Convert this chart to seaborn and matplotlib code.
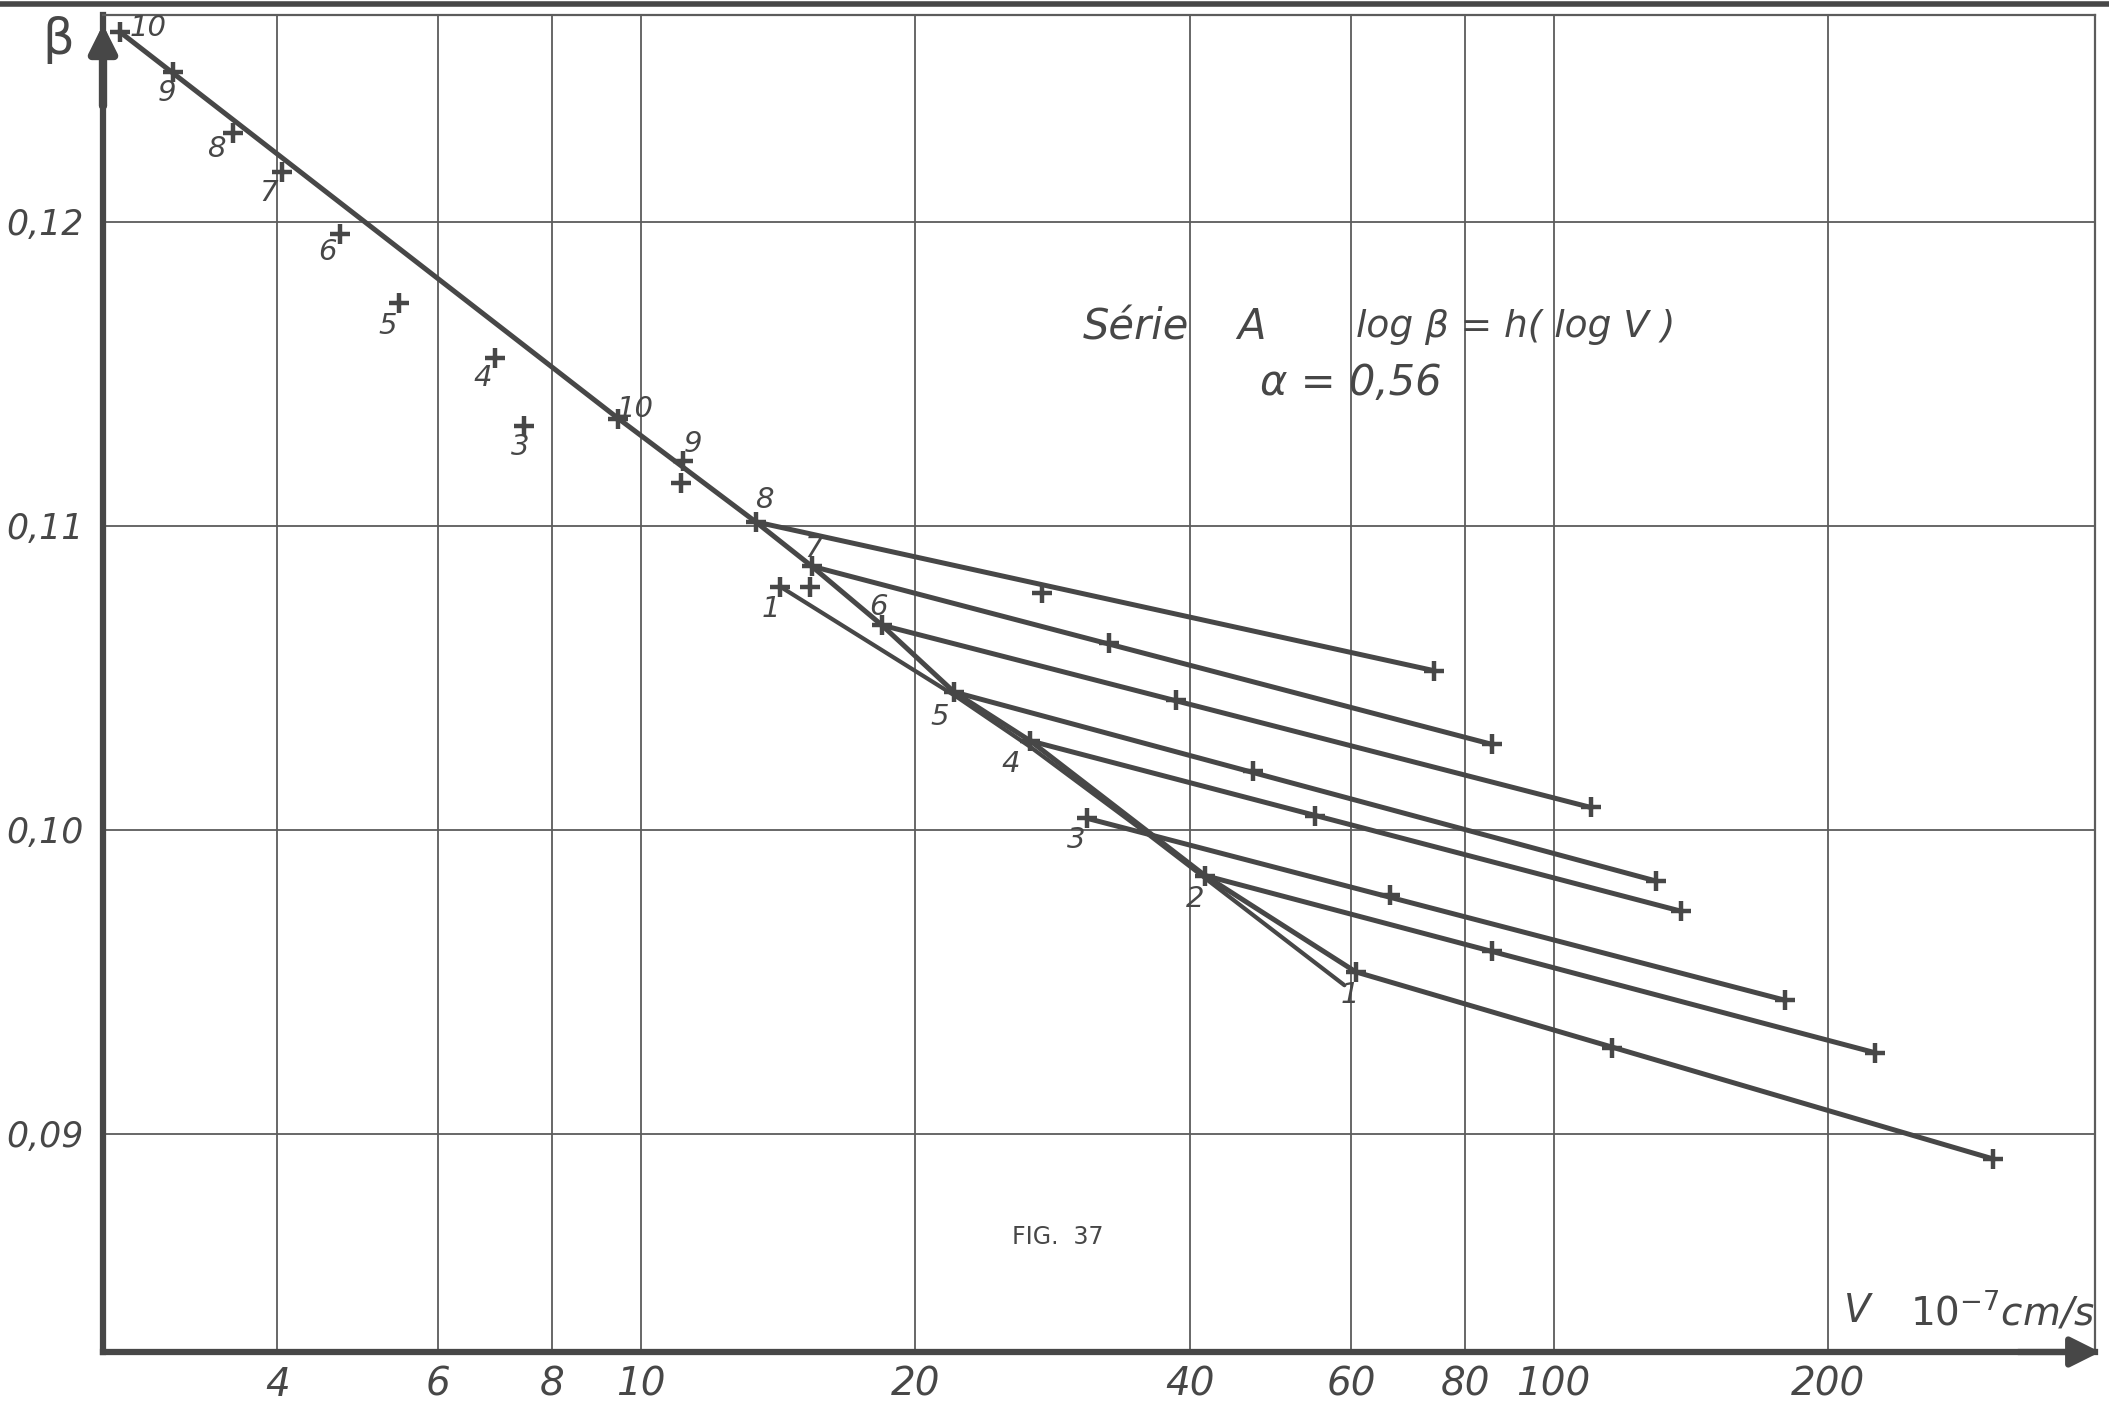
import numpy as np
import pandas as pd
import matplotlib
matplotlib.use("Agg")
import matplotlib.pyplot as plt
import seaborn as sns
from matplotlib.lines import Line2D
from matplotlib.ticker import NullLocator, FixedLocator

# ---------------- data ----------------
# first group of points (upper left, labels 10..3)
set1_V = [2.691, 3.078, 3.575, 4.053, 4.688, 5.442, 6.928, 7.455]
set1_beta = [0.12625, 0.12494, 0.12293, 0.12165, 0.11959, 0.11732, 0.11551, 0.11328]
set1_labels = ["10", "9", "8", "7", "6", "5", "4", "3"]

# second group (points on the envelope, labels 10..1)
main_V = [9.456, 11.14, 13.37, 15.40, 18.38, 22.05, 26.73, 30.87, 41.52, 60.72]
main_beta = [0.11353, 0.11213, 0.11013, 0.10867, 0.10673, 0.10453, 0.10292, 0.10037, 0.09849, 0.09532]
main_labels = ["10", "9", "8", "7", "6", "5", "4", "3", "2", "1"]

# envelope line vertices
env_V = [2.691, 9.456, 13.37, 15.40, 18.38, 22.05, 26.73, 41.52, 60.72]
env_beta = [0.12625, 0.11353, 0.11013, 0.10867, 0.10673, 0.10453, 0.10292, 0.09849, 0.09532]

# extra unlabeled crosses
extra_V = [11.07, 15.33]
extra_beta = [0.11141, 0.10797]

# separate line "1"
sep_V = [14.22, 22.20, 26.71, 35.84, 59.02]
sep_beta = [0.10800, 0.10437, 0.10273, 0.09988, 0.09488]

# fan lines: start at main point k, intermediate cross, end cross
fan_names = ["8", "7", "6", "5", "4", "3", "2", "1"]
fan_start_V = [13.37, 15.40, 18.38, 22.05, 26.73, 30.87, 41.52, 60.72]
fan_start_beta = [0.11013, 0.10867, 0.10673, 0.10453, 0.10292, 0.10037, 0.09849, 0.09532]
fan_mid_V = [27.51, 32.62, 38.59, 46.91, 54.86, 66.14, 85.73, 115.8]
fan_mid_beta = [0.10779, 0.10615, 0.10426, 0.10193, 0.10045, 0.09786, 0.09602, 0.09281]
fan_end_V = [74.03, 85.55, 109.9, 129.5, 137.8, 179.1, 224.9, 303.3]
fan_end_beta = [0.10523, 0.10281, 0.10073, 0.09831, 0.09732, 0.09439, 0.09266, 0.08916]

x_ticks = [4, 6, 8, 10, 20, 40, 60, 80, 100, 200]
x_ticklabels = ["4", "6", "8", "10", "20", "40", "60", "80", "100", "200"]
y_ticks = [0.09, 0.10, 0.11, 0.12]
y_ticklabels = ["0,09", "0,10", "0,11", "0,12"]

# label offsets (pixels) relative to each cross
set1_off = [(28, 4), (-6, -21), (-16, -16), (-14, -21), (-13, -18), (-12, -23), (-12, -20), (-4, -21)]
main_off = [(17, 10), (10, 17), (9, 22), (2, 17), (-3, 18), (-14, -25), (-20, -23), (-11, -22), (-10, -23), (-6, -23)]

# ---------------- style ----------------
sns.set_style("white")
plt.rcParams["font.family"] = ["DejaVu Sans"]
plt.rcParams["mathtext.default"] = "it"
INK = "#474747"
GRID = "#5c5c5c"

fig = plt.figure(figsize=(21.09, 14.14), dpi=100)
ax = fig.add_axes([0.04884, 0.04385, 0.94452, 0.94554])
ax.set_xscale("log")
ax.set_xlim(2.578, 391.8)
ax.set_ylim(0.08281, 0.12681)

# grid
ax.xaxis.set_major_locator(FixedLocator(x_ticks))
ax.xaxis.set_minor_locator(NullLocator())
ax.set_xticks(x_ticks)
ax.set_xticklabels(x_ticklabels)
ax.set_yticks(y_ticks)
ax.set_yticklabels(y_ticklabels)
ax.grid(True, color=GRID, lw=1.3)
ax.set_axisbelow(True)
ax.tick_params(axis="both", length=0, colors=INK)
ax.tick_params(axis="y", pad=14)
ax.tick_params(axis="x", pad=10)
for lab in ax.get_xticklabels():
    lab.set_fontstyle("italic")
    lab.set_fontsize(28)
for lab in ax.get_yticklabels():
    lab.set_fontstyle("italic")
    lab.set_fontsize(25)

for s in ["left", "bottom"]:
    ax.spines[s].set_linewidth(4.5)
    ax.spines[s].set_color(INK)
for s in ["top", "right"]:
    ax.spines[s].set_linewidth(1.6)
    ax.spines[s].set_color(GRID)

LW = 3.6

# envelope line
env_df = pd.DataFrame({"V": env_V, "beta": env_beta})
sns.lineplot(data=env_df, x="V", y="beta", sort=False, estimator=None, color=INK, lw=LW, ax=ax)

# separate "1" line
sep_df = pd.DataFrame({"V": sep_V, "beta": sep_beta})
sns.lineplot(data=sep_df, x="V", y="beta", sort=False, estimator=None, color=INK, lw=3.0, ax=ax)

# fan lines
rows = []
for i, n in enumerate(fan_names):
    rows.append({"line": n, "V": fan_start_V[i], "beta": fan_start_beta[i]})
    rows.append({"line": n, "V": fan_end_V[i], "beta": fan_end_beta[i]})
fan_df = pd.DataFrame(rows)
sns.lineplot(data=fan_df, x="V", y="beta", units="line", estimator=None, sort=False,
             color=INK, lw=LW, ax=ax)

# crosses
pts = pd.DataFrame({
    "V": set1_V + main_V + extra_V + [sep_V[0]] + fan_mid_V + fan_end_V,
    "beta": set1_beta + main_beta + extra_beta + [sep_beta[0]] + fan_mid_beta + fan_end_beta,
})
sns.scatterplot(data=pts, x="V", y="beta", marker="+", s=190, color=INK, linewidth=3.2, ax=ax, zorder=5)

ax.set_xlabel("")
ax.set_ylabel("")

# point labels
lab_kw = dict(textcoords="offset pixels", ha="center", va="center", fontsize=21,
              fontstyle="italic", color=INK)
for v, b, t, o in zip(set1_V, set1_beta, set1_labels, set1_off):
    ax.annotate(t, (v, b), xytext=o, **lab_kw)
for v, b, t, o in zip(main_V, main_beta, main_labels, main_off):
    ax.annotate(t, (v, b), xytext=o, **lab_kw)
ax.annotate("1", (sep_V[0], sep_beta[0]), xytext=(-9, -22), **lab_kw)

# annotations
txt_kw = dict(transform=ax.transAxes, va="center", ha="left", color=INK, fontstyle="italic")
ax.text(0.492, 0.7666, "Série", fontsize=30, **txt_kw)
ax.text(0.5693, 0.7666, "A", fontsize=30, **txt_kw)
ax.text(0.629, 0.7666, "log β = h( log V )", fontsize=27, **txt_kw)
ax.text(0.5808, 0.7248, "α = 0,56", fontsize=30, **txt_kw)
ax.text(0.4794, 0.086, "FIG.  37", transform=ax.transAxes, ha="center", va="center",
        fontsize=17, color=INK)
ax.text(0.874, 0.0305, "V", fontsize=28, **txt_kw)
ax.text(0.907, 0.0305, r"$10^{-7}$cm/s", fontsize=28, **txt_kw)
fig.text(0.0275, 0.9717, "β", fontsize=36, color=INK, ha="center", va="center")

# axis arrows
ax.annotate("", xy=(1.004, 0), xytext=(0.96, 0), xycoords="axes fraction",
            arrowprops=dict(arrowstyle="-|>", lw=4.5, color=INK, mutation_scale=45),
            annotation_clip=False)
ax.annotate("", xy=(0, 0.995), xytext=(0, 0.93), xycoords="axes fraction",
            arrowprops=dict(arrowstyle="-|>", lw=6, color=INK, mutation_scale=40),
            annotation_clip=False)

# scan edge at top
fig.add_artist(Line2D([0.0, 1.0], [0.9975, 0.9975], transform=fig.transFigure, color=INK, lw=4))

fig.savefig("out.png", dpi=100, facecolor="white")
